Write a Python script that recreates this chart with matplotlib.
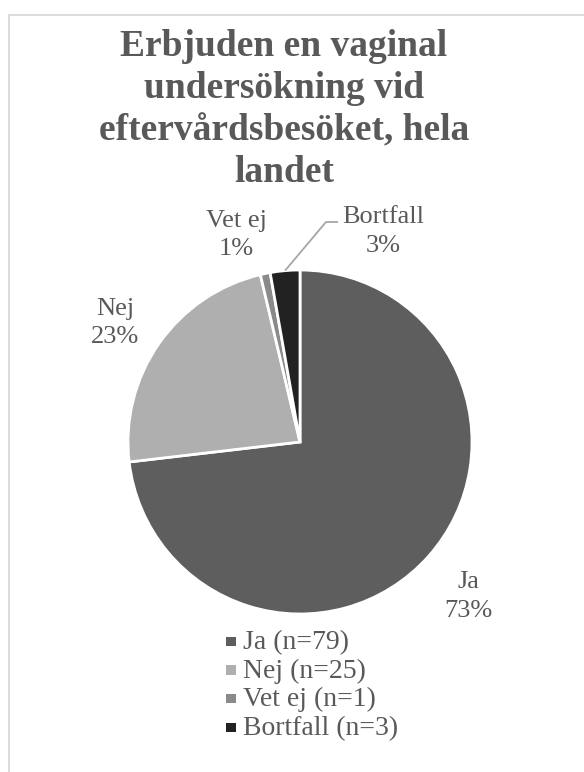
import numpy as np
import matplotlib
matplotlib.use("Agg")
import matplotlib.pyplot as plt
from matplotlib.patches import Rectangle

# Data
categories = ["Ja", "Nej", "Vet ej", "Bortfall"]
counts = [79, 25, 1, 3]
percent_labels = ["73%", "23%", "1%", "3%"]
legend_labels = ["Ja (n=79)", "Nej (n=25)", "Vet ej (n=1)", "Bortfall (n=3)"]
colors = ["#5e5e5e", "#afafaf", "#8a8a8a", "#222222"]
title_lines = ["Erbjuden en vaginal", "undersökning vid",
               "eftervårdsbesöket, hela", "landet"]

W, H = 584, 772
text_color = "#595959"
serif = ["Liberation Serif", "DejaVu Serif"]


def fx(px):
    return px / W


def fy(py):
    return 1 - py / H


fig = plt.figure(figsize=(W / 100, H / 100), dpi=100)
fig.patch.set_facecolor("white")

# Chart area outline
fig.patches.append(Rectangle((fx(8.5), -0.2), 1.2, 1.2 - 14.5 / H,
                             transform=fig.transFigure, fill=False,
                             edgecolor="#d9d9d9", linewidth=1.3))

# Pie axes: centre (300, 442) px, radius 172 px
cx, cy, r = 300, 442, 172
ax = fig.add_axes([fx(cx - r), fy(cy + r), 2 * r / W, 2 * r / H])
wedges, _ = ax.pie(counts, colors=colors, startangle=90, counterclock=False,
                   radius=1.0, wedgeprops=dict(edgecolor="white", linewidth=2))
ax.set_xlim(-1, 1)
ax.set_ylim(-1, 1)
ax.set_aspect("equal")
ax.axis("off")

# Data labels: two lines (category / percent), baselines in pixels
label_fs = 19
label_pos = {               # x centre, first baseline, second baseline
    "Ja": (468, 588, 617),
    "Nej": (115, 315, 343),
    "Vet ej": (236, 227, 255),
    "Bortfall": (383, 223, 252),
}
for cat, pct in zip(categories, percent_labels):
    x, b1, b2 = label_pos[cat]
    fig.text(fx(x), fy(b1), cat, ha="center", va="baseline", fontsize=label_fs,
             family=serif, color=text_color)
    fig.text(fx(x), fy(b2), pct, ha="center", va="baseline", fontsize=label_fs,
             family=serif, color=text_color)

# Leader line for the Bortfall label
total = float(sum(counts))
start = 90.0 - 360.0 * sum(counts[:3]) / total
mid = np.deg2rad(start - 180.0 * counts[3] / total)
ex, ey = np.cos(mid), np.sin(mid)
kx = ((326 - cx) / r, (cy - 222) / r)
hx = ((338 - cx) / r, (cy - 222) / r)
ax.plot([ex, kx[0], hx[0]], [ey, kx[1], hx[1]], color="#a6a6a6", lw=1.3,
        clip_on=False, solid_capstyle="butt")

# Title, one line at a time
for line, base in zip(title_lines, [56, 98, 140, 182]):
    fig.text(fx(284), fy(base), line, ha="center", va="baseline", fontsize=27,
             fontweight="bold", family=serif, color=text_color)

# Legend
legend_fs = 20
for i, (lab, col) in enumerate(zip(legend_labels, colors)):
    yc = 641 + 28.7 * i
    fig.patches.append(Rectangle((fx(226), fy(yc + 5)), 9.5 / W, 9.5 / H,
                                 transform=fig.transFigure, facecolor=col,
                                 edgecolor="none"))
    fig.text(fx(243), fy(yc + 8), lab, ha="left", va="baseline",
             fontsize=legend_fs, family=serif, color=text_color)

fig.savefig("out.png", dpi=100, facecolor="white")
